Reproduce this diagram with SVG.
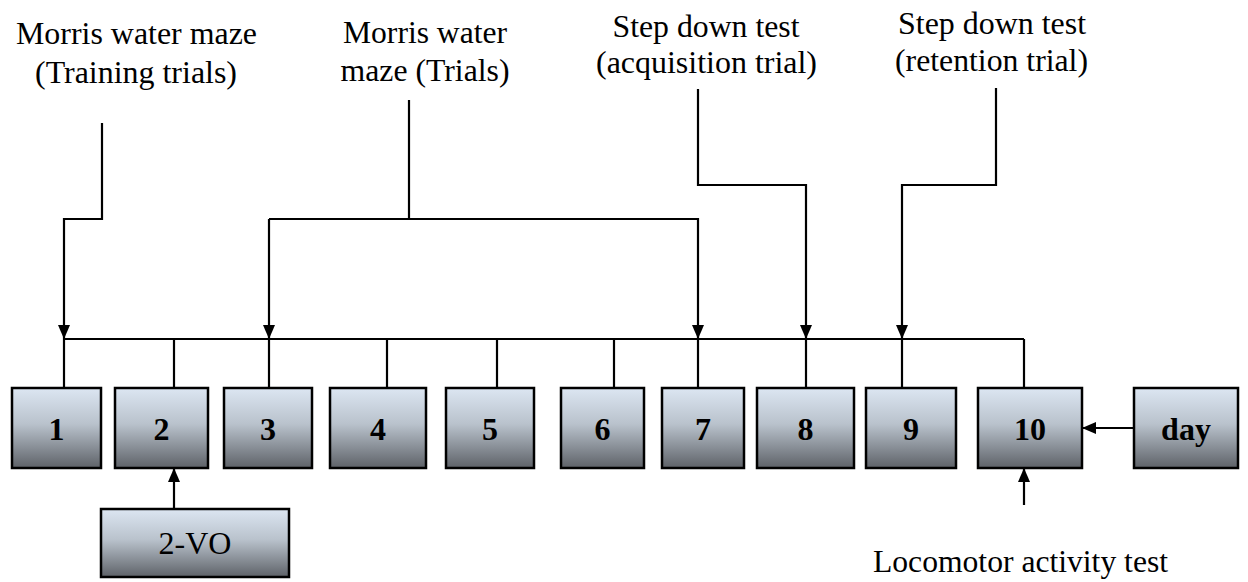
<svg xmlns="http://www.w3.org/2000/svg" width="1248" height="582" viewBox="0 0 1248 582">
<defs>
<linearGradient id="g" x1="0" y1="0" x2="0" y2="1">
<stop offset="0" stop-color="#dce6f2"/>
<stop offset="0.45" stop-color="#b9c2cc"/>
<stop offset="1" stop-color="#5e6268"/>
</linearGradient>
<marker id="ah" viewBox="0 0 14 12" refX="14" refY="6" markerWidth="14" markerHeight="12" markerUnits="userSpaceOnUse" orient="auto">
<path d="M0,0 L14,6 L0,12 Z" fill="#000"/>
</marker>
</defs>
<style>
.box{fill:url(#g);stroke:#000;stroke-width:2.5}
.num{font-family:"Liberation Serif",serif;font-weight:bold;font-size:32px;text-anchor:middle;fill:#000}
.lbl{font-family:"Liberation Serif",serif;font-size:32px;text-anchor:middle;fill:#000}
.ln{fill:none;stroke:#000;stroke-width:2.2}
.ar{fill:none;stroke:#000;stroke-width:2.2;marker-end:url(#ah)}
</style>
<rect width="1248" height="582" fill="#fff"/>
<g id="connectors">
<path class="ln" d="M64,339 H1024"/>
<path class="ln" d="M64,339 V388"/>
<path class="ln" d="M174,339 V388"/>
<path class="ln" d="M269,339 V388"/>
<path class="ln" d="M387,339 V388"/>
<path class="ln" d="M497,339 V388"/>
<path class="ln" d="M614,339 V388"/>
<path class="ln" d="M698,339 V388"/>
<path class="ln" d="M806,339 V388"/>
<path class="ln" d="M902,339 V388"/>
<path class="ln" d="M1024,339 V388"/>
<path class="ar" d="M102,123 V219 H64 V339"/>
<path class="ln" d="M409,100 V219"/>
<path class="ar" d="M269,219 V339"/>
<path class="ar" d="M269,219 H698 V339"/>
<path class="ar" d="M698,89 V185 H806 V339"/>
<path class="ar" d="M996,88 V185 H902 V339"/>
<path class="ar" d="M174,509 V468"/>
<path class="ar" d="M1134,428 H1082"/>
<path class="ar" d="M1024,505 V468"/>
</g>
<g id="n1"><rect class="box" x="12" y="388" width="89" height="80"/><text class="num" x="56.5" y="440">1</text></g>
<g id="n2"><rect class="box" x="115" y="388" width="93" height="80"/><text class="num" x="161.5" y="440">2</text></g>
<g id="n3"><rect class="box" x="224" y="388" width="88" height="80"/><text class="num" x="268" y="440">3</text></g>
<g id="n4"><rect class="box" x="330" y="388" width="96" height="80"/><text class="num" x="378" y="440">4</text></g>
<g id="n5"><rect class="box" x="446" y="388" width="88" height="80"/><text class="num" x="490" y="440">5</text></g>
<g id="n6"><rect class="box" x="561" y="388" width="83" height="80"/><text class="num" x="602.5" y="440">6</text></g>
<g id="n7"><rect class="box" x="662" y="388" width="82" height="80"/><text class="num" x="703" y="440">7</text></g>
<g id="n8"><rect class="box" x="757" y="388" width="97" height="80"/><text class="num" x="805.5" y="440">8</text></g>
<g id="n9"><rect class="box" x="866" y="388" width="90" height="80"/><text class="num" x="911" y="440">9</text></g>
<g id="n10"><rect class="box" x="978" y="388" width="104" height="80"/><text class="num" x="1030" y="440">10</text></g>
<g id="nday"><rect class="box" x="1134" y="388" width="104" height="80"/><text class="num" x="1186" y="440">day</text></g>
<g id="n2vo"><rect class="box" x="101" y="509" width="188" height="68"/><text class="lbl" x="195" y="554">2-VO</text></g>
<g id="t1"><text class="lbl" x="136.5" y="44" textLength="241" lengthAdjust="spacingAndGlyphs">Morris water maze</text><text class="lbl" x="136" y="83" textLength="202" lengthAdjust="spacingAndGlyphs">(Training trials)</text></g>
<g id="t2"><text class="lbl" x="425" y="43" textLength="164" lengthAdjust="spacingAndGlyphs">Morris water</text><text class="lbl" x="425" y="81" textLength="169" lengthAdjust="spacingAndGlyphs">maze (Trials)</text></g>
<g id="t3"><text class="lbl" x="706" y="37" textLength="187" lengthAdjust="spacingAndGlyphs">Step down test</text><text class="lbl" x="706.5" y="73" textLength="221" lengthAdjust="spacingAndGlyphs">(acquisition trial)</text></g>
<g id="t4"><text class="lbl" x="992" y="34" textLength="188" lengthAdjust="spacingAndGlyphs">Step down test</text><text class="lbl" x="991.5" y="71" textLength="193" lengthAdjust="spacingAndGlyphs">(retention trial)</text></g>
<g id="t5"><text class="lbl" x="1020.5" y="572" textLength="295" lengthAdjust="spacingAndGlyphs">Locomotor activity test</text></g>
</svg>
